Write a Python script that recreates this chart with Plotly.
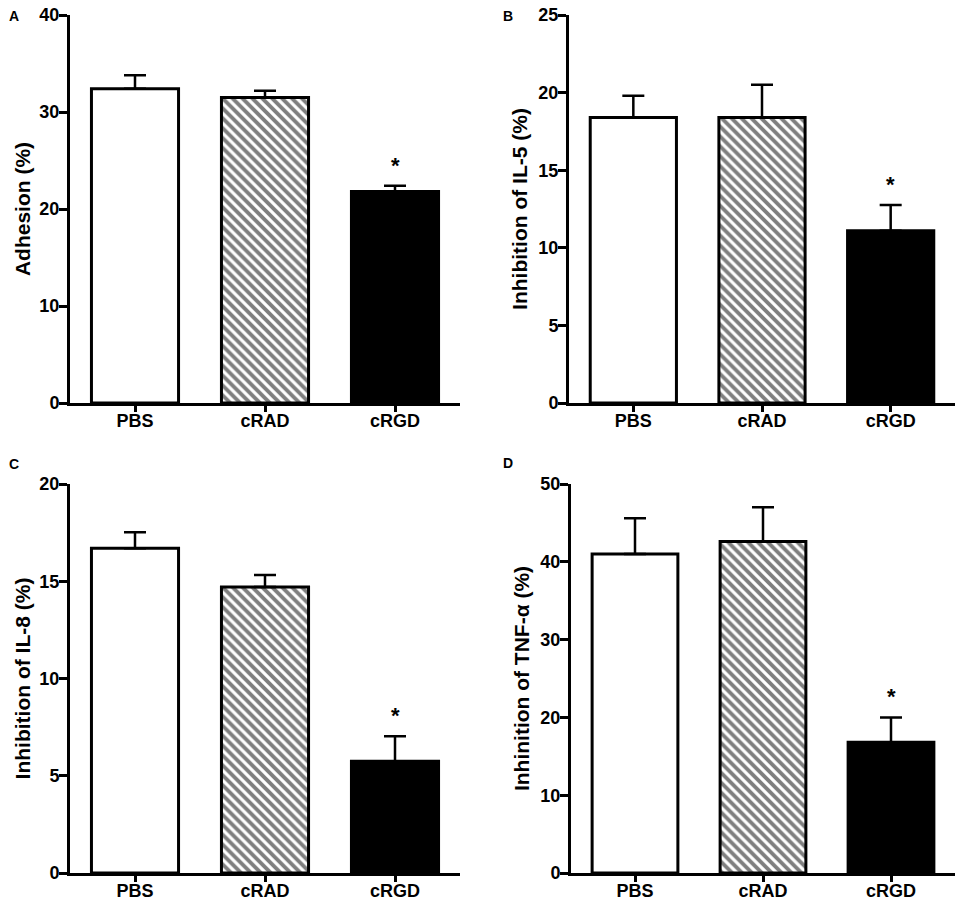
import plotly.graph_objects as go
from plotly.subplots import make_subplots

groups = ["PBS", "cRAD", "cRGD"]

# panel A - adhesion
adhesion = [32.4, 31.5, 21.8]
adhesion_err = [1.4, 0.7, 0.6]
# panel B - IL-5
il5 = [18.4, 18.4, 11.1]
il5_err = [1.4, 2.1, 1.65]
# panel C - IL-8
il8 = [16.7, 14.7, 5.75]
il8_err = [0.82, 0.62, 1.28]
# panel D - TNF-alpha
tnf = [41.0, 42.6, 16.8]
tnf_err = [4.6, 4.4, 3.2]

titles = ["Adhesion (%)", "Inhibition of IL-5 (%)", "Inhibition of IL-8 (%)", "Inhinition of TNF-α (%)"]
letters = ["A", "B", "C", "D"]
yranges = [(0, 40, 10), (0, 25, 5), (0, 20, 5), (0, 50, 10)]
significant = ["cRGD"]

fills = {"PBS": "white", "cRAD": "white", "cRGD": "black"}
hatch = {"PBS": "", "cRAD": "\\", "cRGD": ""}

W, H = 965, 904
OFF = 8  # page body margin pushes the figure down/right
FONT = "Liberation Sans, Arial, sans-serif"

fig = make_subplots(rows=2, cols=2)

panels = [
    (adhesion, adhesion_err, 1, 1),
    (il5, il5_err, 1, 2),
    (il8, il8_err, 2, 1),
    (tnf, tnf_err, 2, 2),
]

# one trace per bar so each gets its own fill / hatch
for vals, errs, r, c in panels:
    for g, v, e in zip(groups, vals, errs):
        pat = dict(shape=hatch[g], size=7, solidity=0.55, fgcolor="black", bgcolor=fills[g]) if hatch[g] else None
        fig.add_trace(
            go.Bar(
                x=[g], y=[v],
                width=0.67,
                marker=dict(color=fills[g], line=dict(color="black", width=3), pattern=pat),
                error_y=dict(type="data", array=[e], arrayminus=[0], symmetric=False,
                             color="black", thickness=2.5, width=11),
                showlegend=False,
            ),
            row=r, col=c,
        )

# screen pixel geometry -> paper domains
def xdom(x0, x1):
    return [(x0 - OFF) / W, (x1 - OFF) / W]

def ydom(top, bottom):
    return [1 - (bottom - OFF) / H, 1 - (top - OFF) / H]

domains = [
    (xdom(70, 460), ydom(15, 403)),
    (xdom(569, 955), ydom(15, 403)),
    (xdom(70, 460), ydom(484, 873)),
    (xdom(571, 955), ydom(484, 873)),
]
standoffs = [4, 6, 4, 6]

for i, (dx, dy) in enumerate(domains):
    sfx = "" if i == 0 else str(i + 1)
    lo, hi, step = yranges[i]
    fig.layout["xaxis" + sfx].update(
        domain=dx, range=[-0.5, 2.5], showline=True, linecolor="black", linewidth=3,
        ticks="outside", ticklen=6, tickwidth=3, tickcolor="black", showgrid=False,
        tickfont=dict(family=FONT, size=18, color="black", weight="bold"),
        ticklabelstandoff=-7, zeroline=False, automargin=False,
    )
    fig.layout["yaxis" + sfx].update(
        domain=dy, range=[lo, hi], dtick=step, showline=True, linecolor="black", linewidth=3,
        ticks="outside", ticklen=8, tickwidth=3, tickcolor="black", showgrid=False,
        zeroline=False, automargin=False, ticklabelstandoff=-4, ticklabeloverflow="allow",
        tickfont=dict(family=FONT, size=18, color="black", weight="bold"),
        title=dict(text=titles[i], standoff=standoffs[i],
                   font=dict(family=FONT, size=21, color="black", weight="bold")),
    )

# significance stars
for i, (vals, errs, r, c) in enumerate(panels):
    sfx = "" if i == 0 else str(i + 1)
    for g in significant:
        k = groups.index(g)
        fig.add_annotation(
            x=g, y=vals[k] + errs[k], xref="x" + sfx, yref="y" + sfx,
            text="*", showarrow=False, yanchor="bottom", yshift=6,
            font=dict(family=FONT, size=22, color="black", weight="bold"),
        )

# panel letters (screen px of the box corner, anchor)
letter_pos = [(8, 7, "left"), (508, 7, "center"), (8, 455, "left"), (508, 454, "center")]
for L, (px, py, xa) in zip(letters, letter_pos):
    fig.add_annotation(
        x=(px - OFF) / W, y=1 - (py - OFF) / H, xref="paper", yref="paper", text=L,
        showarrow=False, xanchor=xa, yanchor="top", borderpad=0,
        font=dict(family=FONT, size=14, color="black", weight="bold"),
    )

fig.update_layout(
    width=W, height=H, margin=dict(l=0, r=0, t=0, b=0, autoexpand=False),
    plot_bgcolor="white", paper_bgcolor="white", barmode="overlay",
    font=dict(family=FONT, color="black"),
)

fig.write_html("out.html")
